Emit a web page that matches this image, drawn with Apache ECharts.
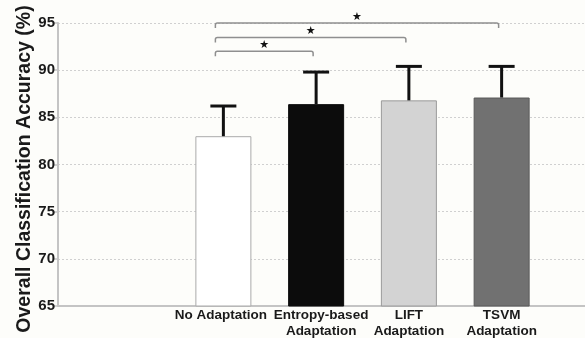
<!DOCTYPE html>
<html>
<head>
<meta charset="utf-8">
<script src="https://cdn.jsdelivr.net/npm/echarts@6/dist/echarts.min.js"></script>
<style>
html,body{margin:0;padding:0;background:#fdfdfa;}
#chart{width:585px;height:338px;}
</style>
</head>
<body>
<div id="chart"></div>
<script>
// ---- data ----
var categories = ['No Adaptation', 'Entropy-based\nAdaptation', 'LIFT\nAdaptation', 'TSVM\nAdaptation'];
var meanValues = [83.0, 86.4, 86.8, 87.1];
var upperErrors = [86.2, 89.8, 90.4, 90.4];
var barColors = ['#ffffff', '#0c0c0c', '#d3d3d3', '#717171'];
var barBorders = ['#aaaaaa', '#0c0c0c', '#9a9a9a', '#5a5a5a'];
// significance brackets: [fromIndex, toIndex, level]
var bracketFrom = [0, 0, 0];
var bracketTo = [1, 2, 3];
var bracketLevel = [92.0, 93.45, 95.0];
var yTicks = [65, 70, 75, 80, 85, 90, 95];

var chart = echarts.init(document.getElementById('chart'));
var FONT = '"Liberation Sans", Arial, sans-serif';
var TOP = 23, BOTTOM = 32;

// small per-label horizontal nudges (padding) to match the original label placement
var labelPads = [[0, 5, 0, 0], [0, 0, 0, 10], [0, 0, 0, 0], [0, 0, 0, 0]];
var catData = categories.map(function (c, i) {
  return { value: c, textStyle: { padding: labelPads[i] } };
});

var barData = meanValues.map(function (v, i) {
  return { value: v, itemStyle: { color: barColors[i], borderColor: barBorders[i], borderWidth: 1 } };
});
var errData = meanValues.map(function (v, i) { return [i, v, upperErrors[i]]; });
var brData = bracketFrom.map(function (f, i) { return [f, bracketTo[i], bracketLevel[i]]; });

chart.setOption({
  backgroundColor: '#fdfdfa',
  animation: false,
  grid: [
    { left: 58, right: 0, top: TOP, bottom: BOTTOM, outerBoundsMode: 'none', containLabel: false },
    { left: 177, width: 371, top: TOP, bottom: BOTTOM, outerBoundsMode: 'none', containLabel: false }
  ],
  xAxis: [
    { type: 'value', gridIndex: 0, min: 0, max: 1,
      axisLine: { show: true, onZero: false, lineStyle: { color: '#c4c4c4', width: 2 } },
      axisTick: { show: false }, axisLabel: { show: false }, splitLine: { show: false } },
    { type: 'category', gridIndex: 1, data: catData,
      axisLine: { show: false }, axisTick: { show: false },
      axisLabel: { interval: 0, color: '#1a1a1a', fontWeight: 'bold', fontFamily: FONT,
        fontSize: 13.5, lineHeight: 16, margin: 1 } }
  ],
  yAxis: [
    { type: 'value', gridIndex: 0, min: yTicks[0], max: yTicks[yTicks.length - 1], interval: 5,
      name: 'Overall Classification Accuracy (%)', nameLocation: 'middle', nameGap: 23,
      nameMoveOverlap: false,
      nameTextStyle: { color: '#1a1a1a', fontWeight: 'bold', fontFamily: FONT, fontSize: 19.5,
        padding: [0, 9, 0, 0] },
      axisLine: { show: true, lineStyle: { color: '#c4c4c4', width: 2 } },
      axisTick: { show: true, length: 4, lineStyle: { color: '#c4c4c4', width: 1.5 } },
      axisLabel: { color: '#1a1a1a', fontWeight: 'bold', fontFamily: FONT, fontSize: 15, margin: 3 },
      splitLine: { show: true, lineStyle: { color: '#d0d0d0', type: [2, 2], width: 1 } } },
    { type: 'value', gridIndex: 1, min: yTicks[0], max: yTicks[yTicks.length - 1], show: false }
  ],
  series: [
    { type: 'bar', xAxisIndex: 1, yAxisIndex: 1, barWidth: 56, data: barData, z: 2 },
    { type: 'custom', xAxisIndex: 1, yAxisIndex: 1, data: errData, z: 3,
      renderItem: function (params, api) {
        var p0 = api.coord([api.value(0), api.value(1)]);
        var p1 = api.coord([api.value(0), api.value(2)]);
        var st = { stroke: '#111', lineWidth: 3 };
        return { type: 'group', children: [
          { type: 'line', shape: { x1: p0[0], y1: p0[1], x2: p1[0], y2: p1[1] }, style: st },
          { type: 'line', shape: { x1: p1[0] - 13, y1: p1[1], x2: p1[0] + 13, y2: p1[1] }, style: st }
        ]};
      } },
    { type: 'custom', xAxisIndex: 1, yAxisIndex: 1, data: brData, z: 4,
      renderItem: function (params, api) {
        var a = api.coord([api.value(0), api.value(2)]);
        var b = api.coord([api.value(1), api.value(2)]);
        var x1 = a[0] - 8, x2 = b[0] - 3, y = a[1], h = 5, r = 2;
        var path = 'M' + x1 + ' ' + (y + h) + ' L' + x1 + ' ' + (y + r) +
          ' Q' + x1 + ' ' + y + ' ' + (x1 + r) + ' ' + y +
          ' L' + (x2 - r) + ' ' + y + ' Q' + x2 + ' ' + y + ' ' + x2 + ' ' + (y + r) +
          ' L' + x2 + ' ' + (y + h);
        return { type: 'group', children: [
          { type: 'path', shape: { pathData: path },
            style: { fill: null, stroke: '#8f8f8f', lineWidth: 1.5 } },
          { type: 'text', x: (x1 + x2) / 2, y: y - 6,
            style: { text: '\u2605', fill: '#111', font: '11px "DejaVu Sans"', align: 'center', verticalAlign: 'middle' } }
        ]};
      } }
  ]
});
</script>
</body>
</html>
